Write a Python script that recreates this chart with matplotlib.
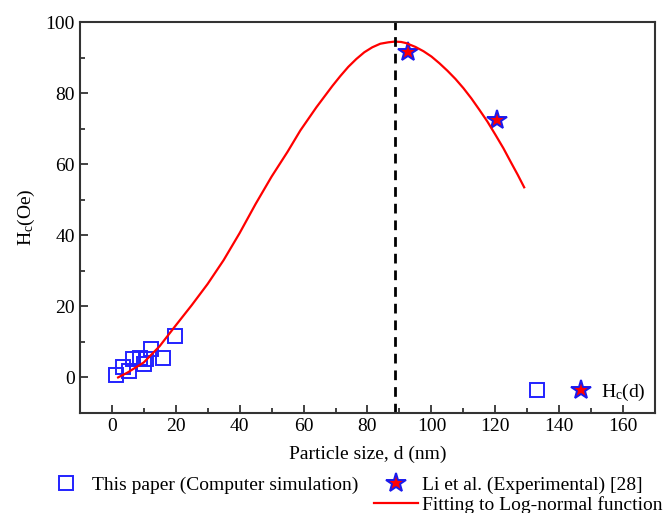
import matplotlib
matplotlib.use('Agg')
import matplotlib.pyplot as plt
from matplotlib.lines import Line2D
from matplotlib.legend_handler import HandlerTuple
from matplotlib.ticker import MultipleLocator

plt.rcParams['font.family'] = ['Liberation Serif', 'DejaVu Serif']
plt.rcParams['mathtext.fontset'] = 'custom'
plt.rcParams['mathtext.rm'] = 'Liberation Serif'
plt.rcParams['mathtext.it'] = 'Liberation Serif'

# Computer simulation points (particle size nm, Hc Oe)
sim_d = [1.4, 3.5, 5.3, 6.6, 8.7, 10.0, 10.8, 12.3, 16.0, 19.9]
sim_hc = [0.8, 3.0, 1.8, 5.1, 5.5, 3.7, 5.1, 7.9, 5.5, 11.6]

# Li et al. experimental points
exp_d = [92.8, 120.5]
exp_hc = [91.6, 72.5]

# Log-normal fit curve
fit_d = [2, 5, 10, 15, 20, 25, 30, 35, 40, 45, 50, 55, 59, 64, 69, 71.5, 74,
         76.5, 79, 81.5, 84, 86.5, 88.5, 90.5, 92, 95, 97.5, 100, 102.5, 105,
         107.5, 110, 112.5, 115, 117.5, 120, 122.5, 125, 127, 129]
fit_hc = [0, 1.4, 4.2, 8.8, 14.6, 20.3, 26.3, 33, 40.6, 48.8, 56.5, 63.5, 69.5,
          76, 82, 84.8, 87.4, 89.6, 91.5, 92.9, 93.9, 94.3, 94.5, 94.4,
          94.1, 93.0, 91.8, 90.3, 88.4, 86.3, 84, 81.4, 78.5, 75.3, 72, 68.3,
          64.5, 60.3, 57, 53.5]

peak_d = 88.5

fig = plt.figure(figsize=(6.7, 5.13), dpi=100)
ax = fig.add_axes([0.119, 0.195, 0.859, 0.762])

sq, = ax.plot(sim_d, sim_hc, 's', ms=9.5, mfc='none', mec='#2222ff', mew=1.4, ls='none',
              label='This paper (Computer simulation)')
st, = ax.plot(exp_d, exp_hc, '*', ms=15, mfc='red', mec='#1a1aee', mew=1.4, ls='none',
              label='Li et al. (Experimental) [28]')
fl, = ax.plot(fit_d, fit_hc, '-', color='red', lw=1.6, label='Fitting to Log-normal function')
ax.axvline(peak_d, color='black', lw=2, dashes=(3.5, 2.5))

ax.set_xlim(-10, 170)
ax.set_ylim(-10, 100)
ax.xaxis.set_major_locator(MultipleLocator(20))
ax.xaxis.set_minor_locator(MultipleLocator(10))
ax.yaxis.set_major_locator(MultipleLocator(20))
ax.yaxis.set_minor_locator(MultipleLocator(10))
ax.tick_params(which='both', direction='in', top=False, right=False, labelsize=14,
               width=1.3, color='#333333')
ax.tick_params(which='major', length=6)
ax.tick_params(which='minor', length=3.5)
for s in ax.spines.values():
    s.set_linewidth(1.5)
    s.set_color('#333333')

ax.set_xlabel('Particle size, d (nm)', fontsize=14, labelpad=8)
ax.set_ylabel('H$_\\mathregular{c}$(Oe)', fontsize=14, labelpad=6)

# inner legend: both markers share one label
ax.legend([(sq, st)], ['H$_\\mathregular{c}$(d)'], handler_map={tuple: HandlerTuple(ndivide=None, pad=1.1)},
          loc='lower right', frameon=False, fontsize=14, handlelength=3.5,
          handletextpad=0.4, borderaxespad=0.1)

blank = Line2D([], [], ls='none')
fig.legend([sq, blank, st, fl],
           ['This paper (Computer simulation)', '', 'Li et al. (Experimental) [28]',
            'Fitting to Log-normal function'],
           ncol=2, loc='upper left', bbox_to_anchor=(0.05, 0.091), frameon=False,
           fontsize=14, handlelength=2.3, handletextpad=0.2, columnspacing=0.8,
           labelspacing=0.1, borderpad=0)

fig.savefig('out.png', dpi=100)
